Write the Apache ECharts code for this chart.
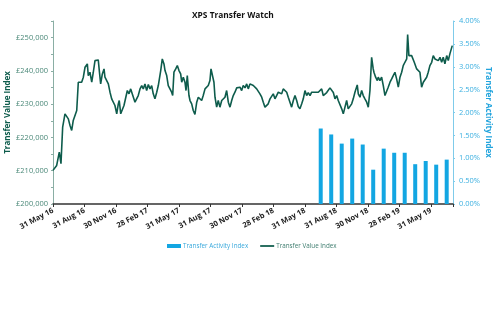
<!DOCTYPE html>
<html><head><meta charset="utf-8">
<script src="https://cdn.jsdelivr.net/npm/echarts@6/dist/echarts.min.js"></script>
<style>html,body{margin:0;padding:0;background:#fff}#c{width:500px;height:323px}</style>
</head><body><div id="c"></div>
<script>
const titleText = 'XPS Transfer Watch';
const xTickLabels = ['31 May 16','31 Aug 16','30 Nov 16','28 Feb 17','31 May 17','31 Aug 17','30 Nov 17','28 Feb 18','31 May 18','31 Aug 18','30 Nov 18','28 Feb 19','31 May 19'];
// months elapsed since 31 May 2016
const lineMonths = [0,0.19,0.35,0.5,0.6,0.76,0.92,1.14,1.30,1.46,
1.62,1.78,1.93,2.10,2.26,2.41,2.57,2.73,2.89,3.05,
3.21,3.27,3.36,3.52,3.69,3.84,4.0,4.16,4.31,4.41,
4.54,4.70,4.86,4.95,5.11,5.27,5.43,5.59,5.74,5.90,
6.07,6.22,6.31,6.45,6.60,6.76,6.92,7.08,7.24,7.40,
7.50,7.65,7.81,7.97,8.12,8.29,8.45,8.60,8.76,8.92,
9.08,9.24,9.40,9.55,9.71,9.88,10.03,10.12,10.26,10.41,
10.57,10.67,10.83,10.98,11.14,11.30,11.40,11.52,11.69,11.84,
12.0,12.16,12.26,12.41,12.57,12.67,12.79,12.95,13.05,13.21,
13.36,13.52,13.69,13.84,14.0,14.16,14.31,14.48,14.64,14.79,
14.95,15.05,15.21,15.33,15.43,15.59,15.74,15.90,16.07,16.22,
16.38,16.54,16.70,16.86,17.02,17.17,17.33,17.50,17.65,17.81,
17.97,18.12,18.29,18.45,18.60,18.76,18.92,19.08,19.24,19.40,
19.55,19.71,19.88,20.03,20.19,20.35,20.50,20.67,20.83,20.98,
21.14,21.30,21.46,21.62,21.78,21.93,22.10,22.26,22.41,22.57,
22.73,22.89,23.05,23.21,23.36,23.52,23.69,23.84,24.0,24.16,
24.31,24.48,24.64,24.79,24.95,25.11,25.27,25.43,25.59,25.74,
25.90,26.07,26.22,26.38,26.54,26.70,26.86,27.02,27.17,27.33,
27.50,27.65,27.81,27.97,28.12,28.29,28.45,28.60,28.76,28.98,
29.08,29.24,29.40,29.55,29.71,29.88,30.03,30.19,30.35,30.50,
30.57,30.73,30.89,30.98,31.14,31.30,31.46,31.62,31.78,31.93,
32.10,32.26,32.41,32.57,32.73,32.89,33.05,33.21,33.36,33.52,
33.69,33.78,33.90,34.0,34.16,34.31,34.41,34.64,34.79,34.95,
35.11,35.27,35.43,35.59,35.74,35.90,36.07,36.22,36.38,36.54,
36.70,36.86,37.02,37.17,37.33,37.50,37.65,37.81,37.98,38.03];
const lineValues = [210100,210600,211600,212100,215600,212100,223100,227100,226600,225600,
223600,222100,225100,224600,228100,236600,236100,236600,238100,241100,
240600,242100,238600,239600,236600,239600,243100,243600,243300,240100,
236100,239100,240600,238100,237600,236100,233600,231600,231100,229600,
227100,230100,231100,227100,226600,229600,230100,234100,233100,234600,
233600,234100,230600,230100,232600,234600,235600,234600,236100,234100,
235900,234600,235600,233100,231600,233600,235600,235100,240100,243600,
242100,240100,238600,235600,234600,233600,232600,239600,240600,241600,
240100,239100,236600,238100,236600,234100,238600,232600,231100,230100,
228100,226900,230600,232100,231600,231100,232600,234600,234600,235600,
237100,240600,240100,236600,232100,229100,231100,229100,231100,231600,
232100,234100,230600,229100,231100,232600,233600,234900,234300,235100,
234100,235600,234900,236100,234600,236100,236600,235600,236100,234600,
234600,233100,232100,230600,229100,228600,230100,231600,232100,233100,
231600,232600,233600,234100,233100,234600,235100,233600,232100,230600,
229100,231100,232600,231100,229300,228600,230100,231600,234100,232600,
233500,232600,233600,233100,233600,233100,233600,233100,234600,232600,
232100,233500,234100,234900,235300,233500,231600,232600,231100,230600,
228600,227100,229100,231100,228600,228100,230100,231600,233600,235800,
233100,232100,234100,232600,231600,230600,229100,234100,244100,240600,
239600,238100,237100,238100,237100,238100,235600,232600,233100,235100,
236600,237600,238600,239600,237600,235100,238100,239600,241600,242600,
243600,250900,244600,244100,244600,244100,242600,240600,241100,239600,
235100,236600,237100,238100,239600,241600,242600,244600,243600,244100,
243100,244100,242600,244100,242100,244600,243100,245200,244600,247600];
// monthly bars, Jul 18 .. Jul 19 (months since 31 May 2016, mid-month)
const barMonths = [25.5,26.5,27.5,28.5,29.5,30.5,31.5,32.5,33.5,34.5,35.5,36.5,37.5];
const barValues = [1.65,1.52,1.32,1.43,1.30,0.75,1.21,1.12,1.12,0.87,0.94,0.86,0.97];

const GREEN = '#0e5c4c', BLUE = '#13a6e2';
const FONT = 'Open Sans';
const chart = echarts.init(document.getElementById('c'), null, {renderer:'canvas'});
chart.setOption({
  animation:false,
  textStyle:{fontFamily:FONT},
  title:{text:titleText, left:187, top:7, textStyle:{fontSize:8.4, fontWeight:'bold', color:'#111', fontFamily:FONT}},
  grid:{left:53, right:47, top:21, bottom:119, containLabel:false, outerBoundsMode:'none'},
  legend:{left:162, top:238, itemWidth:14, itemHeight:4, itemGap:12,
    textStyle:{fontSize:6.3, fontFamily:FONT, padding:[0,0,0,-3]},
    data:[
      {name:'Transfer Activity Index', icon:'rect', textStyle:{color:'#3aa9dc'}},
      {name:'Transfer Value Index', icon:'path://M0,0h16v2h-16z', textStyle:{color:'#3f7d6f'}}
    ]},
  xAxis:{type:'value', min:0, max:38.1, interval:3,
    axisLine:{lineStyle:{color:'#333', width:1.5}},
    axisTick:{length:3, lineStyle:{color:'#333'}},
    splitLine:{show:false},
    axisLabel:{rotate:28, fontSize:7.5, fontWeight:'bold', color:'#222', margin:6,
      formatter:function(v){ const i = Math.round(v/3); return Math.abs(v-i*3)<1e-6 && xTickLabels[i] ? xTickLabels[i] : ''; }}
  },
  yAxis:[
    {type:'value', min:200000, max:255000, interval:5000, position:'left',
      name:'Transfer Value Index', nameLocation:'middle', nameGap:41, nameRotate:90, nameMoveOverlap:false,
      nameTextStyle:{fontSize:8, fontWeight:'bold', color:GREEN, fontFamily:FONT},
      axisLine:{show:true, lineStyle:{color:'#8aaea4', width:1}},
      axisTick:{show:true, length:2, lineStyle:{color:'#8aaea4'}},
      splitLine:{show:false},
      axisLabel:{fontSize:7.5, color:'#4a8878', margin:5,
        formatter:function(v){ return (v % 10000 === 0 && v < 255000) ? '£' + v.toLocaleString('en-GB') : ''; }}
    },
    {type:'value', min:0, max:4, interval:0.5, position:'right',
      name:'Transfer Activity Index', nameLocation:'middle', nameGap:31, nameRotate:-90, nameMoveOverlap:false,
      nameTextStyle:{fontSize:8, fontWeight:'bold', color:'#22a4dd', fontFamily:FONT},
      axisLine:{show:true, lineStyle:{color:'#7fcbea', width:1}},
      axisTick:{show:true, length:2, lineStyle:{color:'#7fcbea'}},
      splitLine:{show:false},
      axisLabel:{fontSize:7.5, color:'#3cb0e0', margin:6,
        formatter:function(v){ return v.toFixed(2) + '%'; }}
    }
  ],
  series:[
    {name:'Transfer Activity Index', type:'bar', xAxisIndex:0, yAxisIndex:1, barWidth:4,
      itemStyle:{color:BLUE},
      data: barMonths.map((m,i)=>[m, barValues[i]])},
    {name:'Transfer Value Index', type:'line', xAxisIndex:0, yAxisIndex:0, showSymbol:false, symbol:'none',
      lineStyle:{color:GREEN, width:1.6}, itemStyle:{color:GREEN},
      data: lineMonths.map((m,i)=>[m, lineValues[i]])}
  ]
});
</script></body></html>
